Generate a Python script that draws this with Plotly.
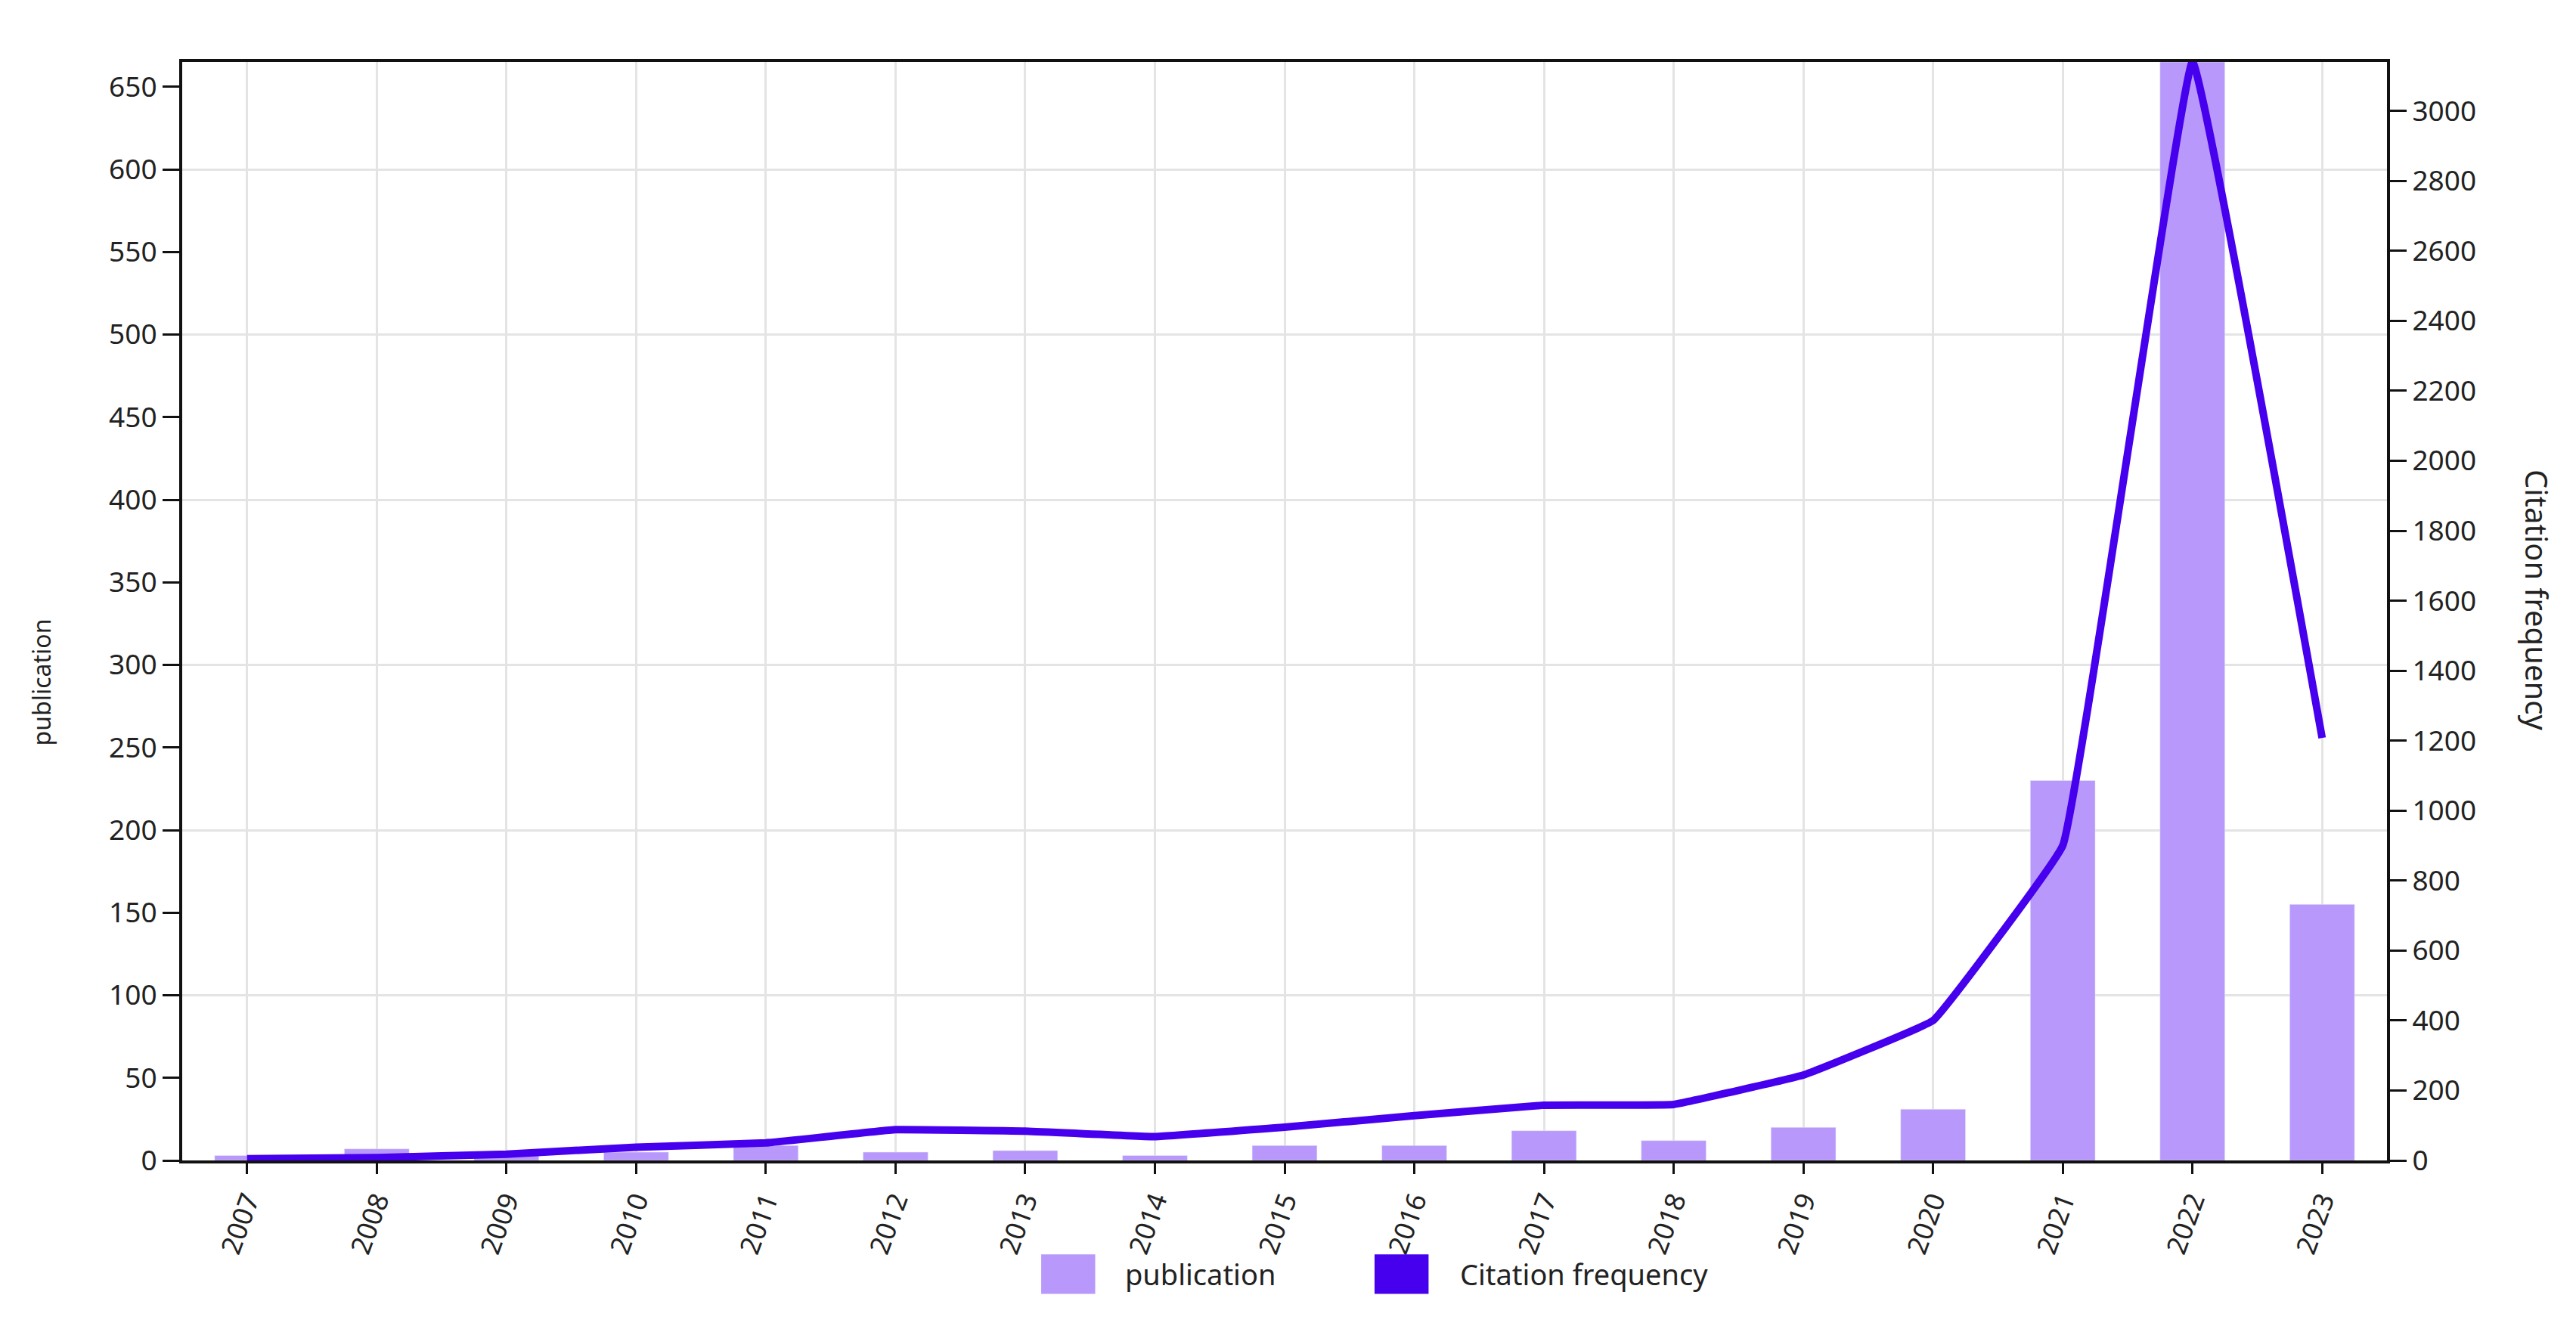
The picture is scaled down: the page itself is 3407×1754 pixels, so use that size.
import plotly.graph_objects as go

# data
years = ['2007', '2008', '2009', '2010', '2011', '2012', '2013', '2014', '2015',
         '2016', '2017', '2018', '2019', '2020', '2021', '2022', '2023']
publication = [3, 7, 3, 5, 9, 5, 6, 3, 9, 9, 18, 12, 20, 31, 230, 665, 155]
citation = [5, 8, 18, 38, 50, 88, 84, 68, 95, 128, 158, 160, 244, 400, 900, 3140, 1208]
left_ticks = list(range(0, 651, 50))
right_ticks = list(range(0, 3001, 200))

bar_color = '#b899fb'
line_color = '#4600ee'
grid_color = '#e4e4e4'
font_name = 'Noto Sans'

fig = go.Figure()
fig.add_trace(go.Bar(x=years, y=publication, name='publication',
                     marker_color=bar_color, width=0.5, showlegend=False))
fig.add_trace(go.Scatter(x=years, y=citation, name='Citation frequency', yaxis='y2',
                         mode='lines', line=dict(color=line_color, width=10, shape='spline', smoothing=0.2),
                         showlegend=False, cliponaxis=False))

fig.update_layout(
    width=3407, height=1754,
    margin=dict(l=233, r=258, t=74, b=227),
    paper_bgcolor='white', plot_bgcolor='white',
    font=dict(family=font_name, size=36, color='#222'),
    bargap=0.5,
    xaxis=dict(type='category', range=[-0.5, 16.5], tickangle=-70,
               showline=True, linecolor='#111', linewidth=4, mirror=True,
               ticks='outside', ticklen=14, tickwidth=3, tickcolor='#111',
               showgrid=True, gridcolor=grid_color, gridwidth=3,
               tickfont=dict(size=36)),
    yaxis=dict(range=[0, 665], tickvals=left_ticks, showgrid=False, zeroline=False,
               showline=True, linecolor='#111', linewidth=4,
               ticks='outside', ticklen=22, tickwidth=3, tickcolor='#111',
               minor=dict(dtick=100, tick0=0, showgrid=True, gridcolor=grid_color, gridwidth=3),
               tickfont=dict(size=37)),
    yaxis2=dict(range=[0, 3140], tickvals=right_ticks, overlaying='y', side='right',
                showgrid=False, zeroline=False,
                showline=True, linecolor='#111', linewidth=4,
                ticks='outside', ticklen=22, tickwidth=3, tickcolor='#111',
                tickfont=dict(size=37)),
)

# axis titles
fig.add_annotation(text='publication', xref='paper', yref='paper', x=-0.072, y=0.435,
                   textangle=-90, showarrow=False, font=dict(size=32))
fig.add_annotation(text='Citation frequency', xref='paper', yref='paper', x=1.078, y=0.51,
                   textangle=90, showarrow=False, font=dict(size=40))

# legend with large square swatches, as in the original
legend_items = [('publication', bar_color, 0.3896, 0.427),
                ('Citation frequency', line_color, 0.5408, 0.5789)]
for label, color, x0, xt in legend_items:
    fig.add_shape(type='rect', xref='paper', yref='paper', x0=x0, x1=x0 + 0.0245,
                  y0=-0.1215, y1=-0.0855, fillcolor=color, line_width=0)
    fig.add_annotation(text=label, xref='paper', yref='paper', x=xt, y=-0.1035,
                       xanchor='left', yanchor='middle', showarrow=False, font=dict(size=38))

fig.write_html('out.html')
